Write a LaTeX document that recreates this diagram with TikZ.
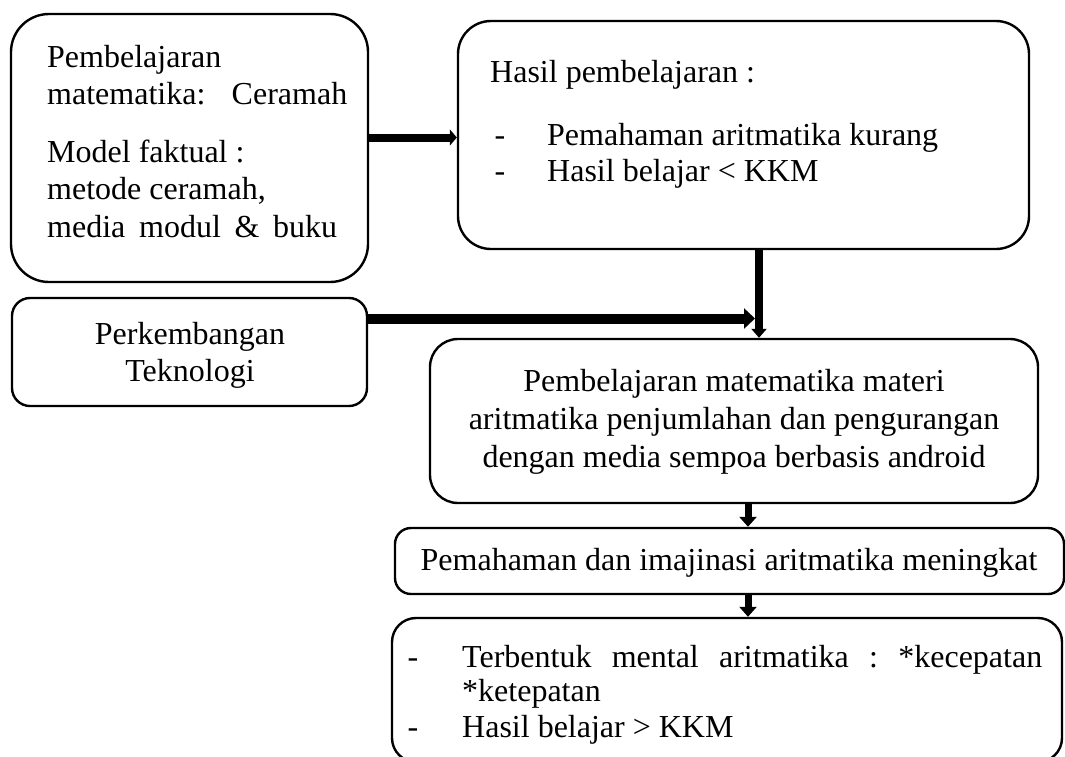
\documentclass[tikz,border=0pt]{standalone}
\usepackage{fontspec}
\setmainfont{Liberation Serif}
\usetikzlibrary{arrows.meta}
\begin{document}
\frenchspacing
\fontsize{32pt}{37pt}\selectfont
\begin{tikzpicture}[x=1pt,y=-1pt,
  box/.style={draw, line width=2.4pt, inner sep=0pt},
  txt/.style={inner sep=0pt, anchor=base west},
  ctxt/.style={inner sep=0pt, anchor=base},
  arr/.style={line width=#1}]
\useasboundingbox (0,0) rectangle (1065,756);

% boxes
\node[box, rounded corners=38pt, minimum width=357pt, minimum height=268pt] (b1) at (189.5,148) {};
\node[box, rounded corners=33pt, minimum width=571pt, minimum height=228pt] (b2) at (743.5,135) {};
\node[box, rounded corners=18pt, minimum width=355pt, minimum height=108pt] (b3) at (189.5,352) {};
\node[box, rounded corners=28pt, minimum width=608pt, minimum height=164pt] (b4) at (734,421) {};
\node[box, rounded corners=16pt, minimum width=669pt, minimum height=66pt] (b5) at (729.5,561) {};
\node[box, rounded corners=24pt, minimum width=670pt, minimum height=144pt] (b6) at (727,690) {};

% texts
\node[txt] (t1a) at (47,67) {Pembelajaran};
\node[txt] (t1b) at (47,104) {\makebox[300pt][s]{matematika: Ceramah}};
\node[txt] (t1c) at (47,162) {Model faktual :};
\node[txt] (t1d) at (47,199) {metode ceramah,};
\node[txt] (t1e) at (47,237) {\makebox[290pt][s]{media modul \& buku}};

\node[txt] (t2a) at (490,82) {Hasil pembelajaran :};
\node[ctxt] (t2d1) at (500,145) {-};
\node[txt] (t2b) at (547,145) {Pemahaman aritmatika kurang};
\node[ctxt] (t2d2) at (500,181) {-};
\node[txt] (t2c) at (547,181) {Hasil belajar < KKM};

\node[ctxt] (t3a) at (190,344) {Perkembangan};
\node[ctxt] (t3b) at (190,381) {Teknologi};

\node[ctxt] (t4a) at (734,391) {Pembelajaran matematika materi};
\node[ctxt] (t4b) at (734,429) {aritmatika penjumlahan dan pengurangan};
\node[ctxt] (t4c) at (734,467) {dengan media sempoa berbasis android};

\node[ctxt] (t5) at (729,570) {Pemahaman dan imajinasi aritmatika meningkat};

\node[ctxt] (t6d1) at (413,667) {-};
\node[txt] (t6a) at (462,667) {\makebox[580pt][s]{Terbentuk mental aritmatika : *kecepatan}};
\node[txt] (t6b) at (462,701) {*ketepatan};
\node[ctxt] (t6d2) at (413,737) {-};
\node[txt] (t6c) at (462,737) {Hasil belajar > KKM};

% connector columns and rows
\coordinate (r1) at (0,137.5);
\coordinate (c2) at (759,0);
\coordinate (r3) at (0,318.5);
\coordinate (j) at (755,318.5);
\coordinate (c4) at (748,0);

% connectors
\draw[arr=8pt, -{Triangle[length=7pt,width=16pt]}] (b1.east |- r1) -- (b2.west |- r1);
\draw[arr=8pt, -{Triangle[length=9pt,width=15pt]}] (b2.south -| c2) -- (b4.north -| c2);
\draw[arr=10pt, -{Triangle[length=11pt,width=20pt]}] (b3.east |- r3) -- (j);
\draw[arr=7pt, -{Triangle[length=10pt,width=17pt]}] (b4.south -| c4) -- (b5.north -| c4);
\draw[arr=7pt, -{Triangle[length=10pt,width=17pt]}] (b5.south -| c4) -- (b6.north -| c4);
\end{tikzpicture}
\end{document}
